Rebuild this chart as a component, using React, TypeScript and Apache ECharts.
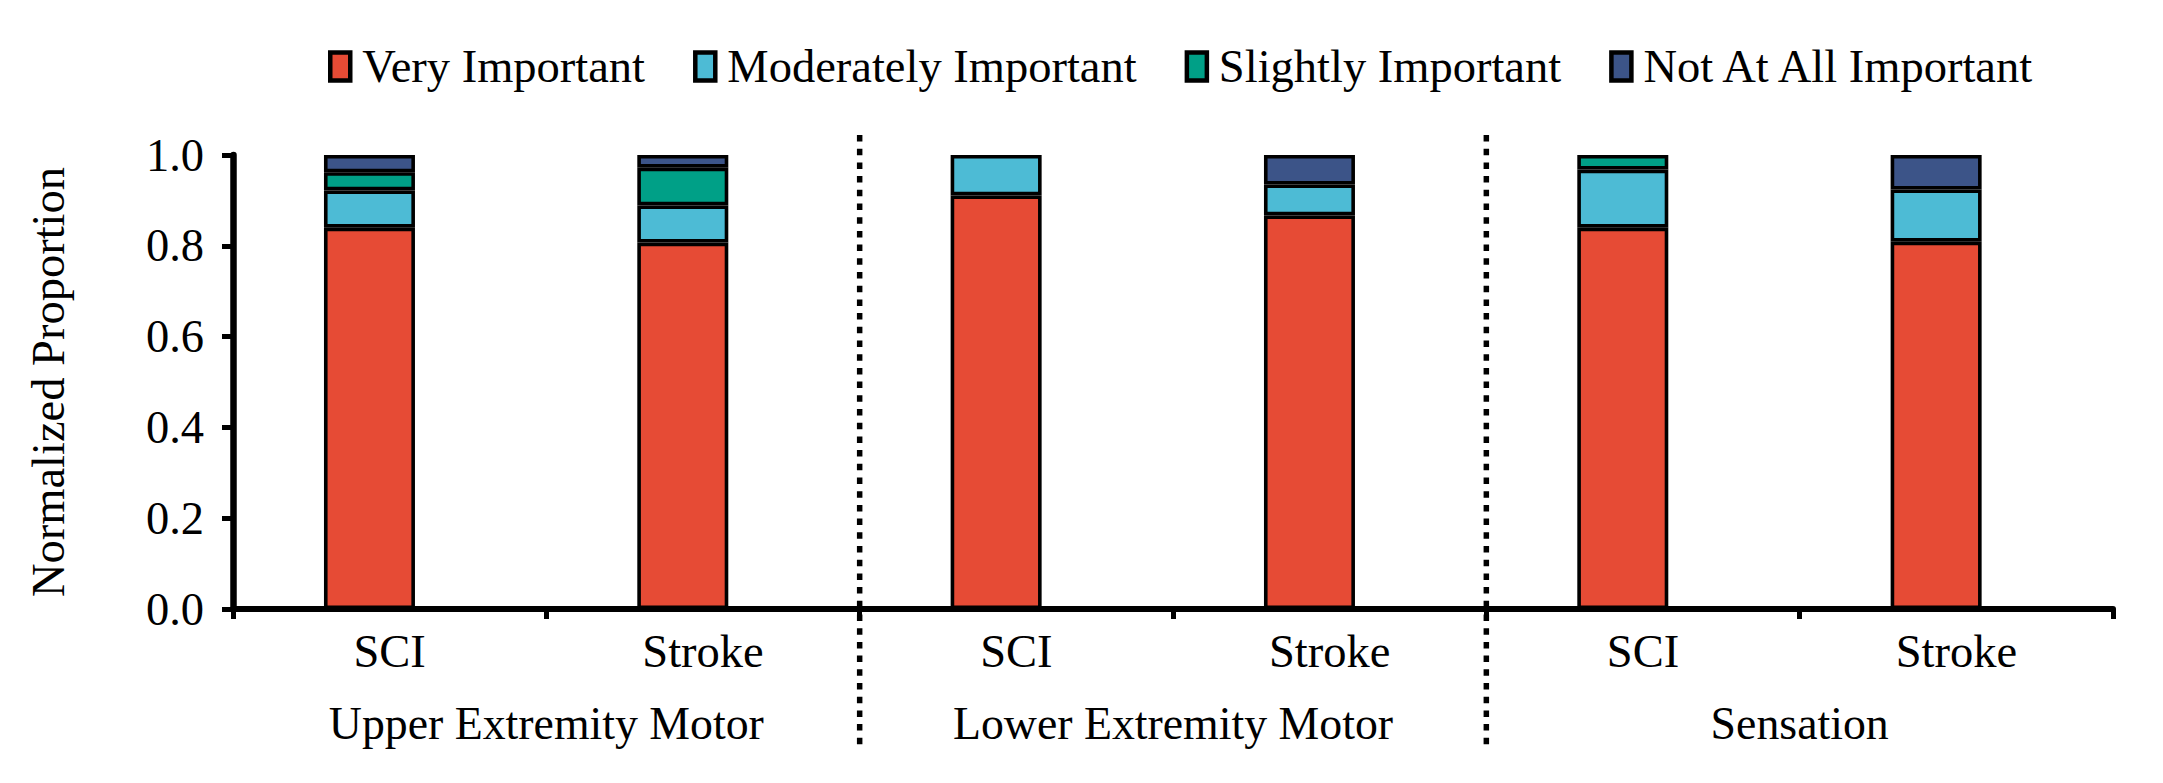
import React, { useEffect, useRef } from 'react';
import * as echarts from 'echarts';

const categories = ['SCI', 'Stroke', 'SCI', 'Stroke', 'SCI', 'Stroke'];
const groups = ['Upper Extremity Motor', 'Lower Extremity Motor', 'Sensation'];
const seriesNames = ['Very Important', 'Moderately Important', 'Slightly Important', 'Not At All Important'];
const veryImportant = [0.840, 0.807, 0.911, 0.867, 0.840, 0.809];
const moderatelyImportant = [0.082, 0.082, 0.089, 0.068, 0.128, 0.115];
const slightlyImportant = [0.040, 0.083, 0, 0, 0.032, 0];
const notAtAllImportant = [0.038, 0.028, 0, 0.065, 0, 0.076];
const yTickLabels = ['0.0', '0.2', '0.4', '0.6', '0.8', '1.0'];
const colors = ['#E64B35', '#4DBBD5', '#00A087', '#3C5488'];

const FONT = "'Liberation Serif', 'Times New Roman', serif";

export default function App() {
  const ref = useRef<HTMLDivElement>(null);
  useEffect(() => {
    if (!ref.current) return;
    const chart = echarts.init(ref.current, undefined, { renderer: 'svg' });
    const values = [veryImportant, moderatelyImportant, slightlyImportant, notAtAllImportant];
    const text = { fontFamily: FONT, fontSize: 46.5, color: '#000' };
    chart.setOption({
      animation: false,
      backgroundColor: '#fff',
      legend: {
        data: seriesNames,
        left: 328,
        top: 43,
        padding: 0,
        itemWidth: 20,
        itemHeight: 28,
        itemGap: 48,
        icon: 'rect',
        textStyle: { ...text, padding: [0, 0, 0, 7] },
        itemStyle: { borderColor: '#000', borderWidth: 4.5 },
      },
      grid: [
        { left: 233, right: 50, top: 155, bottom: 174 },
        { left: 212.8, right: 70.2, top: 155, bottom: 174 },
      ],
      xAxis: [
        {
          gridIndex: 0,
          type: 'category',
          data: categories,
          axisLine: { show: true, lineStyle: { color: '#000', width: 6 } },
          axisTick: { show: true, interval: 0, length: 10, lineStyle: { color: '#000', width: 5 } },
          axisLabel: { ...text, margin: 19, interval: 0 },
          z: 1,
        },
        {
          gridIndex: 0,
          type: 'category',
          data: groups,
          position: 'bottom',
          offset: 83,
          axisLine: { show: false },
          axisTick: { show: false },
          axisLabel: { ...text, fontSize: 45.8, margin: 8, interval: 0 },
        },
        { gridIndex: 1, type: 'category', data: categories, show: false },
      ],
      yAxis: [
        {
          gridIndex: 0,
          type: 'value',
          min: 0,
          max: 1,
          interval: 0.2,
          axisLine: { show: true, lineStyle: { color: '#000', width: 6.5 } },
          axisTick: { show: true, length: 11, lineStyle: { color: '#000', width: 5 } },
          splitLine: { show: false },
          axisLabel: {
            ...text,
            margin: 29,
            formatter: (v: number) => yTickLabels[Math.round(v * 5)] ?? v.toFixed(1),
          },
          name: 'Normalized Proportion',
          nameLocation: 'middle',
          nameGap: 161,
          nameTextStyle: { ...text, fontSize: 46.5 },
        },
        { gridIndex: 1, type: 'value', min: 0, max: 1, show: false },
      ],
      series: seriesNames.map((name, i) => ({
        name,
        type: 'bar',
        xAxisIndex: 2,
        yAxisIndex: 1,
        stack: 'total',
        barWidth: 91,
        itemStyle: { color: colors[i], borderColor: '#000', borderWidth: 3.6 },
        data: values[i].map((v) => (v === 0 ? '-' : v)),
        z: 3,
      })),
    });
    const p1 = chart.convertToPixel({ xAxisIndex: 0 }, 1) as number;
    const p2 = chart.convertToPixel({ xAxisIndex: 0 }, 2) as number;
    const p3 = chart.convertToPixel({ xAxisIndex: 0 }, 3) as number;
    const p4 = chart.convertToPixel({ xAxisIndex: 0 }, 4) as number;
    const xs = [(p1 + p2) / 2, (p3 + p4) / 2];
    chart.setOption({
      graphic: xs.map((x) => ({
        type: 'line',
        z: 10,
        shape: { x1: x, y1: 135, x2: x, y2: 750 },
        style: { stroke: '#000', lineWidth: 5.5, lineDash: [6.5, 7.2] },
      })),
    });
    return () => chart.dispose();
  }, []);
  return (
    <div
      ref={ref}
      style={{ position: 'fixed', left: 0, top: 0, width: 2163, height: 783, background: '#fff' }}
    />
  );
}
